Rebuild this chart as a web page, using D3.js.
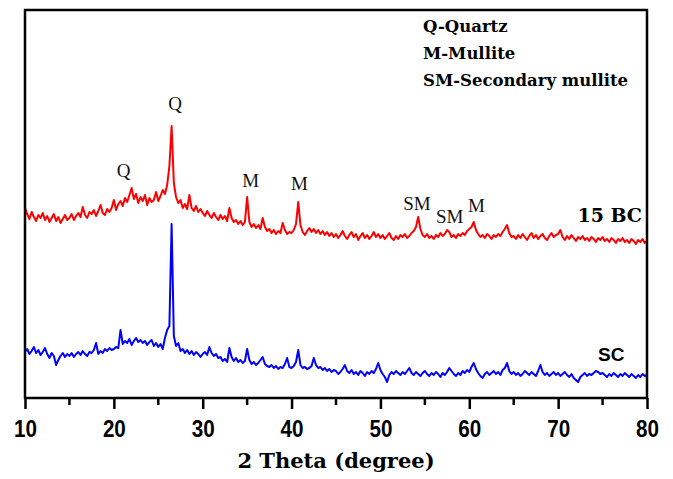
<!DOCTYPE html>
<html>
<head>
<meta charset="utf-8">
<script src="https://cdn.jsdelivr.net/npm/d3@7"></script>
<style>
  body { margin: 0; background: #fff; }
  svg { display: block; }
</style>
</head>
<body>
<div id="chart"></div>
<script>
// 2-theta grid: 10 to 80 in 0.25 degree steps
const thetaStart = 10, thetaStep = 0.25;

// SC sample (blue), intensity a.u.
const scValues = [
  46, 49, 44, 47, 51, 45, 48, 43, 46, 50, 44, 40, 45, 42, 33, 38, 42, 45, 41, 44,
  42, 45, 41, 44, 46, 43, 47, 44, 42, 46, 45, 48, 55, 44, 47, 45, 49, 47, 50, 48,
  49, 51, 50, 68, 54, 57, 55, 59, 53, 57, 60, 56, 58, 55, 57, 53, 56, 58, 52, 55,
  51, 54, 49, 60, 68, 72, 174, 62, 52, 55, 47, 49, 45, 48, 44, 47, 43, 46, 44, 41,
  44, 46, 43, 51, 45, 42, 44, 40, 41, 37, 39, 36, 50, 41, 37, 40, 36, 38, 35, 37,
  49, 38, 34, 36, 33, 35, 38, 41, 34, 32, 31, 33, 30, 32, 29, 31, 30, 34, 40, 31,
  30, 32, 36, 48, 33, 30, 31, 29, 30, 32, 40, 33, 30, 31, 28, 30, 27, 29, 26, 28,
  27, 24, 26, 29, 33, 27, 25, 28, 24, 26, 23, 27, 25, 22, 26, 24, 27, 25, 29, 35,
  28, 24, 21, 16, 23, 26, 24, 27, 25, 23, 26, 24, 27, 30, 25, 23, 26, 24, 22, 25,
  27, 24, 22, 25, 23, 26, 24, 21, 25, 23, 26, 30, 27, 24, 22, 25, 23, 27, 25, 28,
  26, 31, 35, 29, 25, 22, 20, 24, 26, 23, 25, 27, 24, 26, 23, 28, 30, 35, 27, 24,
  26, 23, 25, 22, 24, 27, 25, 23, 26, 24, 22, 27, 33, 26, 23, 25, 22, 24, 26, 23,
  25, 22, 24, 26, 23, 21, 24, 20, 18, 16, 21, 23, 25, 22, 24, 23, 25, 27, 26, 24,
  25, 23, 21, 24, 22, 25, 23, 21, 24, 22, 25, 23, 21, 24, 22, 20, 23, 21, 24, 22, 23
];

// 15 BC sample (red), intensity a.u. (stacked with an offset)
const bcValues = [
  50, 44, 39, 46, 41, 37, 43, 40, 45, 38, 42, 36, 40, 44, 37, 41, 35, 39, 43, 38,
  40, 44, 38, 42, 45, 41, 51, 43, 40, 46, 44, 48, 42, 47, 53, 45, 43, 49, 46, 50,
  58, 48, 54, 57, 52, 60, 56, 63, 70, 59, 64, 55, 61, 57, 63, 53, 60, 56, 58, 66,
  57, 62, 68, 64, 73, 92, 132, 75, 61, 55, 58, 50, 54, 49, 63, 50, 47, 52, 46, 49,
  45, 42, 47, 43, 40, 45, 41, 38, 43, 39, 42, 37, 50, 40, 36, 38, 34, 37, 33, 36,
  61, 36, 31, 34, 30, 33, 29, 40, 31, 27, 29, 25, 28, 24, 27, 25, 35, 28, 24, 26,
  25, 28, 34, 56, 33, 26, 23, 27, 30, 26, 29, 25, 28, 24, 27, 23, 26, 22, 25, 21,
  24, 20, 23, 27, 22, 19, 23, 26, 21, 24, 18, 22, 25, 20, 23, 19, 22, 26, 21, 24,
  20, 23, 19, 22, 25, 20, 18, 22, 19, 23, 21, 24, 20, 22, 25, 27, 31, 41, 29, 23,
  21, 24, 20, 22, 19, 23, 21, 25, 22, 24, 28, 26, 21, 23, 20, 24, 22, 25, 23, 27,
  29, 31, 36, 28, 24, 21, 23, 20, 24, 22, 19, 23, 21, 24, 22, 26, 29, 33, 25, 21,
  22, 19, 23, 20, 24, 21, 18, 22, 25, 20, 23, 19, 22, 24, 20, 18, 22, 25, 21, 23,
  24, 28, 21, 18, 22, 19, 23, 20, 17, 21, 19, 22, 18, 20, 17, 21, 19, 16, 20, 18,
  21, 17, 19, 16, 20, 18, 15, 19, 17, 20, 16, 18, 15, 19, 17, 14, 18, 16, 19, 15, 17
];
const bcOffset = 140;

// peak labels (2theta, label height in plot units)
const peakLabels = ["Q", "Q", "M", "M", "SM", "SM", "M"];
const peakTheta = [21.1, 26.9, 35.4, 40.9, 54.1, 57.8, 60.8];
const peakLevel = [221, 288, 211, 208, 188, 175, 186];

const legendLines = ["Q-Quartz", "M-Mullite", "SM-Secondary mullite"];
const xTicks = [10, 20, 30, 40, 50, 60, 70, 80];
const xMinorTicks = [15, 25, 35, 45, 55, 65, 75];

const W = 673, H = 479;
const margin = { top: 10, right: 26, bottom: 81, left: 25 },
      width = W - margin.left - margin.right,
      height = H - margin.top - margin.bottom;

const svg = d3.select("#chart")
  .append("svg")
    .attr("width", W)
    .attr("height", H)
  .append("g")
    .attr("transform", `translate(${margin.left},${margin.top})`);

const x = d3.scaleLinear().domain([10, 80]).range([0, width]);
const y = d3.scaleLinear().domain([0, height]).range([height, 0]);

const toPoints = (vals, off) => vals.map((v, i) => ({ t: thetaStart + i * thetaStep, v: v + off }));

const line = d3.line()
  .x(d => x(d.t))
  .y(d => y(d.v));

svg.append("path")
  .attr("fill", "none")
  .attr("stroke", "#0000ff")
  .attr("stroke-width", 2)
  .attr("stroke-linejoin", "round")
  .attr("d", line(toPoints(scValues, 0)));

svg.append("path")
  .attr("fill", "none")
  .attr("stroke", "#ff0000")
  .attr("stroke-width", 2)
  .attr("stroke-linejoin", "round")
  .attr("d", line(toPoints(bcValues, bcOffset)));

// frame
svg.append("rect")
  .attr("width", width)
  .attr("height", height)
  .attr("fill", "none")
  .attr("stroke", "#000")
  .attr("stroke-width", 2.5);

// bottom axis
const xAxis = svg.append("g")
  .attr("transform", `translate(0,${height})`)
  .call(d3.axisBottom(x).tickValues(xTicks).tickSize(11).tickPadding(11).tickFormat(d3.format("d")));
xAxis.select(".domain").remove();
xAxis.selectAll(".tick line").attr("stroke-width", 2.5);
xAxis.selectAll(".tick text")
  .attr("font-family", "'Liberation Sans', Arial, sans-serif")
  .attr("font-weight", "bold")
  .attr("font-size", 24)
  .attr("transform", "scale(0.86,1)")
  .attr("fill", "#000");

svg.append("g")
  .attr("transform", `translate(0,${height})`)
  .selectAll("line")
  .data(xMinorTicks)
  .join("line")
    .attr("x1", d => x(d))
    .attr("x2", d => x(d))
    .attr("y1", 0)
    .attr("y2", 7)
    .attr("stroke", "#000")
    .attr("stroke-width", 2.5);

svg.append("text")
  .attr("x", width / 2 + 0)
  .attr("y", height + 70)
  .attr("text-anchor", "middle")
  .attr("font-family", "'DejaVu Serif', serif")
  .attr("font-weight", "bold")
  .attr("font-size", 21)
  .text("2 Theta (degree)");

// peak labels
svg.selectAll(".peak")
  .data(peakLabels)
  .join("text")
    .attr("class", "peak")
    .attr("x", (d, i) => x(peakTheta[i]))
    .attr("y", (d, i) => y(peakLevel[i]))
    .attr("text-anchor", "middle")
    .attr("font-family", "'Liberation Serif', 'Times New Roman', serif")
    .attr("font-size", 19)
    .attr("fill", "#111")
    .text(d => d);

// legend
svg.selectAll(".legend")
  .data(legendLines)
  .join("text")
    .attr("class", "legend")
    .attr("x", 398)
    .attr("y", (d, i) => 22 + i * 27)
    .attr("font-family", "'DejaVu Serif', serif")
    .attr("font-weight", "bold")
    .attr("font-size", 16.5)
    .text(d => d);

// series names
svg.append("text")
  .attr("x", width - 5)
  .attr("y", 212)
  .attr("text-anchor", "end")
  .attr("font-family", "'DejaVu Serif', serif")
  .attr("font-weight", "bold")
  .attr("font-size", 19)
  .text("15 BC");

svg.append("text")
  .attr("x", 573)
  .attr("y", 351)
  .attr("font-family", "'Liberation Sans', Arial, sans-serif")
  .attr("font-weight", "bold")
  .attr("font-size", 19)
  .text("SC");
</script>
</body>
</html>
